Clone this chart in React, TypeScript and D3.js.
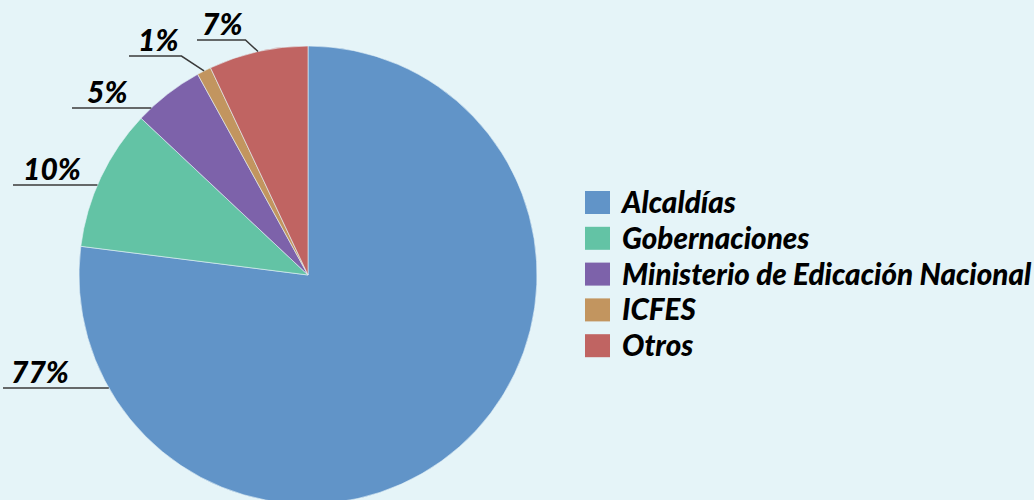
import { useEffect, useRef } from 'react';
import * as d3 from 'd3';

// Data
const categories = ['Alcaldías', 'Gobernaciones', 'Ministerio de Edicación Nacional', 'ICFES', 'Otros'];
const shares = [77, 10, 5, 1, 7];
const colors = ['#6194C8', '#63C3A5', '#7D62AA', '#C2955F', '#C06462'];

// Label layout (text start x, baseline y, elbow = leader goes to slice middle)
const labelLayout = [
    { x: 11, y: 383, lineX: 3, elbow: false },
    { x: 23, y: 180, lineX: 13, elbow: false },
    { x: 87, y: 103, lineX: 72, elbow: false },
    { x: 138, y: 51, lineX: 129, elbow: true },
    { x: 202, y: 35, lineX: 197, elbow: true },
];

export default function App() {
    const ref = useRef<SVGSVGElement>(null);

    useEffect(() => {
        document.body.style.margin = '0';
        if (!ref.current) return;
        const svg = d3.select(ref.current);
        svg.selectAll('*').remove();

        const width = 1034;
        const height = 500;
        const cx = 308;
        const cy = 275;
        const r = 229;
        const font = 'Lato, sans-serif';

        svg.attr('width', width).attr('height', height);
        svg.append('rect').attr('width', width).attr('height', height).attr('fill', '#E5F4F8');

        const data = categories.map((c, i) => ({ name: c, value: shares[i], color: colors[i] }));
        const pie = d3.pie<typeof data[0]>().value(d => d.value).sort(null);
        const arcs = pie(data);
        const arc = d3.arc<d3.PieArcDatum<typeof data[0]>>().innerRadius(0).outerRadius(r);

        const g = svg.append('g').attr('transform', `translate(${cx},${cy})`);
        g.selectAll('path')
            .data(arcs)
            .enter()
            .append('path')
            .attr('d', arc)
            .attr('fill', d => d.data.color)
            .attr('stroke', '#E5F4F8')
            .attr('stroke-width', 0.6);

        // Labels with leader lines
        arcs.forEach((a, i) => {
            const l = labelLayout[i];
            const t = svg.append('text')
                .attr('x', l.x)
                .attr('y', l.y)
                .attr('font-family', font)
                .attr('font-weight', 900)
                .attr('font-style', 'italic')
                .attr('font-size', '30px')
                .attr('fill', '#000')
                .text(`${a.data.value}%`);
            const tw = (t.node() as SVGTextElement).getComputedTextLength();
            const ly = l.y + 5;
            let pts: [number, number][];
            if (l.elbow) {
                const mid = (a.startAngle + a.endAngle) / 2;
                const px = cx + r * Math.sin(mid);
                const py = cy - r * Math.cos(mid);
                const ex = l.x + tw + 3;
                pts = [[l.lineX, ly], [ex, ly], [px, py]];
            } else {
                const px = cx - Math.sqrt(r * r - (ly - cy) * (ly - cy));
                pts = [[l.lineX, ly], [px, ly]];
            }
            svg.append('path')
                .attr('d', d3.line()(pts))
                .attr('fill', 'none')
                .attr('stroke', '#3a3a3a')
                .attr('stroke-width', 1.5);
        });

        // Legend
        const legend = svg.append('g').attr('transform', 'translate(585,191)');
        data.forEach((d, i) => {
            const row = legend.append('g').attr('transform', `translate(0,${i * 35.8})`);
            row.append('rect').attr('width', 25).attr('height', 23).attr('fill', d.color);
            row.append('text')
                .attr('x', 37)
                .attr('y', 22)
                .attr('font-family', font)
                .attr('font-weight', 900)
                .attr('font-style', 'italic')
                .attr('font-size', '29.6px')
                .attr('fill', '#000')
                .text(d.name);
        });
    }, []);

    return <svg ref={ref} style={{ display: 'block' }}></svg>;
}
